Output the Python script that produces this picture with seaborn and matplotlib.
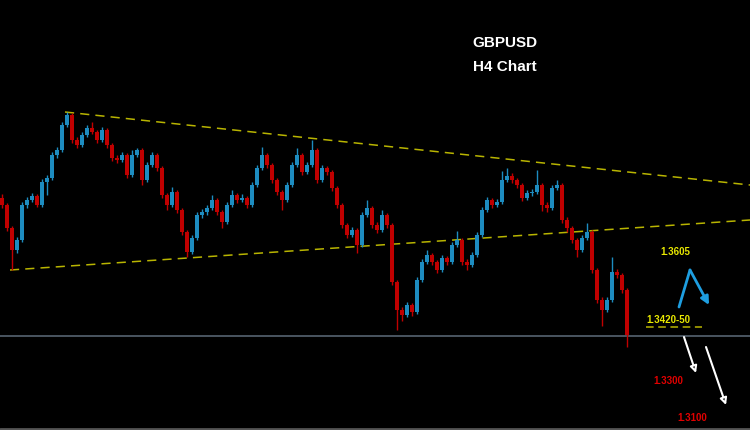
import numpy as np
import matplotlib
matplotlib.use("Agg")
import matplotlib.pyplot as plt
import seaborn as sns

# GBPUSD H4 candles (oldest -> newest), open of each bar = previous close
first_open = 1.3952
closes = [1.3924, 1.3832, 1.3744, 1.3784, 1.3924, 1.3944, 1.3960, 1.3924, 1.4016, 1.4032,
          1.4124, 1.4144, 1.4244, 1.4284, 1.4184, 1.4164, 1.4204, 1.4232, 1.4216, 1.4184,
          1.4224, 1.4164, 1.4112, 1.4104, 1.4124, 1.4044, 1.4124, 1.4144, 1.4024, 1.4084,
          1.4124, 1.4072, 1.3964, 1.3924, 1.3976, 1.3904, 1.3816, 1.3736, 1.3792, 1.3884,
          1.3896, 1.3912, 1.3944, 1.3896, 1.3856, 1.3924, 1.3964, 1.3944, 1.3952, 1.3924,
          1.4004, 1.4072, 1.4124, 1.4084, 1.4024, 1.3976, 1.3944, 1.4004, 1.4084, 1.4124,
          1.4056, 1.4084, 1.4144, 1.4024, 1.4072, 1.4056, 1.3992, 1.3924, 1.3844, 1.3804,
          1.3824, 1.3764, 1.3884, 1.3912, 1.3844, 1.3824, 1.3884, 1.3844, 1.3616, 1.3504,
          1.3484, 1.3524, 1.3496, 1.3624, 1.3696, 1.3724, 1.3696, 1.3664, 1.3712, 1.3696,
          1.3764, 1.3784, 1.3696, 1.3684, 1.3724, 1.3804, 1.3904, 1.3944, 1.3924, 1.3936,
          1.4024, 1.4040, 1.4024, 1.4004, 1.3952, 1.3972, 1.3976, 1.4004, 1.3924, 1.3912,
          1.3992, 1.4004, 1.3864, 1.3832, 1.3784, 1.3744, 1.3792, 1.3816, 1.3664, 1.3544,
          1.3504, 1.3544, 1.3656, 1.3644, 1.3584, 1.3404]
highs = [1.3966, 1.3930, 1.3840, 1.3796, 1.3936, 1.3956, 1.3972, 1.3968, 1.4028, 1.4044,
         1.4136, 1.4156, 1.4256, 1.4296, 1.4290, 1.4196, 1.4216, 1.4244, 1.4256, 1.4224,
         1.4236, 1.4230, 1.4172, 1.4124, 1.4136, 1.4132, 1.4144, 1.4152, 1.4150, 1.4096,
         1.4136, 1.4132, 1.4080, 1.3972, 1.3996, 1.3984, 1.3912, 1.3824, 1.3804, 1.3896,
         1.3908, 1.3924, 1.3964, 1.3952, 1.3904, 1.3936, 1.3984, 1.3972, 1.3968, 1.3960,
         1.4016, 1.4084, 1.4156, 1.4132, 1.4092, 1.4032, 1.3984, 1.4016, 1.4096, 1.4152,
         1.4132, 1.4096, 1.4184, 1.4152, 1.4084, 1.4080, 1.4064, 1.4000, 1.3932, 1.3852,
         1.3836, 1.3832, 1.3896, 1.3944, 1.3920, 1.3856, 1.3904, 1.3892, 1.3852, 1.3624,
         1.3516, 1.3536, 1.3532, 1.3636, 1.3708, 1.3744, 1.3732, 1.3704, 1.3724, 1.3720,
         1.3776, 1.3820, 1.3792, 1.3708, 1.3736, 1.3816, 1.3916, 1.3956, 1.3952, 1.3948,
         1.4060, 1.4072, 1.4052, 1.4032, 1.4012, 1.3984, 1.3988, 1.4064, 1.4012, 1.3936,
         1.4004, 1.4024, 1.4012, 1.3876, 1.3840, 1.3792, 1.3804, 1.3852, 1.3824, 1.3672,
         1.3556, 1.3556, 1.3716, 1.3668, 1.3652, 1.3592]
lows = [1.3912, 1.3820, 1.3664, 1.3730, 1.3776, 1.3912, 1.3936, 1.3916, 1.3918, 1.3964,
        1.4024, 1.4112, 1.4136, 1.4236, 1.4172, 1.4150, 1.4156, 1.4196, 1.4208, 1.4172,
        1.4176, 1.4152, 1.4100, 1.4092, 1.4096, 1.4032, 1.4036, 1.4116, 1.4004, 1.4016,
        1.4076, 1.4060, 1.3952, 1.3904, 1.3916, 1.3892, 1.3804, 1.3716, 1.3728, 1.3784,
        1.3872, 1.3884, 1.3904, 1.3884, 1.3832, 1.3848, 1.3916, 1.3932, 1.3936, 1.3912,
        1.3916, 1.3996, 1.4064, 1.4072, 1.4012, 1.3964, 1.3904, 1.3936, 1.3996, 1.4076,
        1.4044, 1.4048, 1.4076, 1.4012, 1.4016, 1.4044, 1.3980, 1.3912, 1.3832, 1.3792,
        1.3796, 1.3732, 1.3756, 1.3876, 1.3832, 1.3812, 1.3816, 1.3832, 1.3604, 1.3424,
        1.3460, 1.3476, 1.3480, 1.3488, 1.3616, 1.3688, 1.3684, 1.3652, 1.3656, 1.3684,
        1.3688, 1.3756, 1.3684, 1.3664, 1.3676, 1.3716, 1.3796, 1.3896, 1.3912, 1.3916,
        1.3928, 1.4016, 1.4012, 1.3992, 1.3940, 1.3944, 1.3960, 1.3968, 1.3900, 1.3896,
        1.3904, 1.3984, 1.3852, 1.3816, 1.3772, 1.3716, 1.3736, 1.3784, 1.3652, 1.3532,
        1.3440, 1.3496, 1.3536, 1.3632, 1.3572, 1.3356]

# analyst levels
upper_trend = ([12.6, 149.6], [1.4296, 1.4004])
lower_trend = ([1.6, 149.6], [1.3664, 1.3864])
support = 1.3400
zone = 1.3436
target_up = "1.3605"
zone_label = "1.3420-50"
target_1 = "1.3300"
target_2 = "1.3100"

opens = [first_open] + closes[:-1]
idx = np.arange(len(closes))
o = np.array(opens)
c = np.array(closes)
bull = c >= o

sns.set_theme(style="dark", rc={"axes.facecolor": "black", "figure.facecolor": "black"})
plt.rcParams['font.family'] = ['Liberation Sans', 'DejaVu Sans']

fig = plt.figure(figsize=(7.5, 4.3), dpi=100)
ax = fig.add_axes([0, 0, 1, 1])
ax.set_facecolor("black")

blue = "#1d8cc0"
red = "#c00000"
cols = np.where(bull, blue, red)

ax.vlines(idx, lows, highs, colors=cols, linewidth=1.0, zorder=3)
ax.bar(idx, np.abs(c - o) + 0.0002, bottom=np.minimum(o, c) - 0.0001, width=0.75,
       color=cols, linewidth=0, zorder=4)

# trend lines
ax.plot(*upper_trend, color="#b8b400", lw=1.1, ls=(0, (6, 4)), zorder=2)
ax.plot(*lower_trend, color="#b8b400", lw=1.1, ls=(0, (6, 4)), zorder=2)
ax.axhline(support, color="#4a5560", lw=1.4, zorder=1)
ax.plot([128.8, 140], [zone, zone], color="#b8b400", lw=1.1, ls=(0, (5, 3)), zorder=2)

# projections
ax.plot([135.4, 137.6], [1.3516, 1.3664], color="#1e9ee0", lw=2, solid_capstyle="round")
ax.annotate("", xy=(141.4, 1.3524), xytext=(137.6, 1.3664),
            arrowprops=dict(arrowstyle="-|>", color="#1e9ee0", lw=2, mutation_scale=12,
                            shrinkA=0, shrinkB=0))
ax.annotate("", xy=(138.8, 1.3252), xytext=(136.4, 1.3396),
            arrowprops=dict(arrowstyle="-|>", color="white", lw=1.5, mutation_scale=10,
                            shrinkA=0, shrinkB=0, fc="black"))
ax.annotate("", xy=(144.8, 1.3124), xytext=(140.8, 1.3356),
            arrowprops=dict(arrowstyle="-|>", color="white", lw=1.5, mutation_scale=10,
                            shrinkA=0, shrinkB=0, fc="black"))

ax.text(134.6, 1.3736, target_up, color="#e8e800", fontsize=7, fontweight="bold",
        ha="center", va="center")
ax.text(128.8, 1.3464, zone_label, color="#e8e800", fontsize=7, fontweight="bold",
        ha="left", va="center")
ax.text(133.2, 1.3220, target_1, color="#e00000", fontsize=7, fontweight="bold",
        ha="center", va="center")
ax.text(138.0, 1.3072, target_2, color="#e00000", fontsize=7, fontweight="bold",
        ha="center", va="center")

ax.text(0.673, 0.9, "GBPUSD", transform=ax.transAxes, color="white", fontsize=11,
        fontweight="bold", ha="center", va="center")
ax.text(0.673, 0.844, "H4 Chart", transform=ax.transAxes, color="white", fontsize=11,
        fontweight="bold", ha="center", va="center")

ax.axhline(1.3028, color="#555555", lw=2)

ax.set_xlim(-0.4, 149.6)
ax.set_ylim(1.3024, 1.4744)
ax.set_xticks([])
ax.set_yticks([])
for s in ax.spines.values():
    s.set_visible(False)

fig.savefig("out.png", dpi=100, facecolor="black")
